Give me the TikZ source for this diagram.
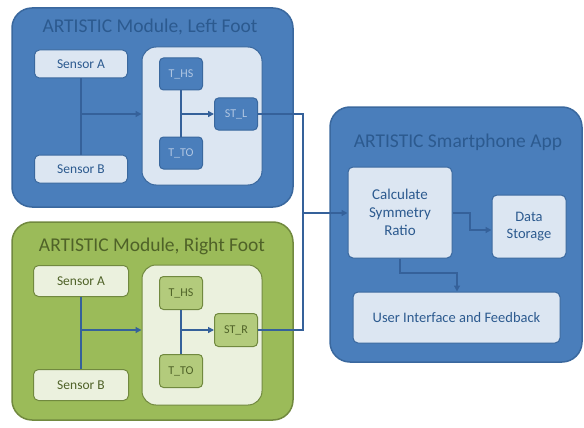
\documentclass[tikz,border=0pt]{standalone}
\usepackage{fontspec}
\setmainfont{Carlito}
\usetikzlibrary{arrows.meta}
\definecolor{bluefill}{HTML}{4A7EBB}
\definecolor{blueline}{HTML}{3A689E}
\definecolor{bluelight}{HTML}{DCE6F2}
\definecolor{bluetext}{HTML}{2C5A8F}
\definecolor{bluesmalltext}{HTML}{B0C6E2}
\definecolor{greenfill}{HTML}{9BBB59}
\definecolor{greensmall}{HTML}{B3CB7C}
\definecolor{greenline}{HTML}{71893F}
\definecolor{greenlight}{HTML}{EBF1DE}
\definecolor{greentext}{HTML}{4F6228}
\definecolor{wireblue}{HTML}{35619A}
\tikzset{
  outerB/.style={draw=blueline, fill=bluefill, line width=1.5pt, rounded corners=20pt},
  outerG/.style={draw=greenline, fill=greenfill, line width=1.5pt, rounded corners=20pt},
  lightB/.style={draw=blueline, fill=bluelight, line width=1pt, rounded corners=5pt, text=bluetext, font=\fontsize{13.5}{15}\selectfont},
  lightG/.style={draw=greenline, fill=greenlight, line width=1pt, rounded corners=5pt, text=greentext, font=\fontsize{13.5}{15}\selectfont},
  innerB/.style={draw=blueline, fill=bluelight, line width=1pt, rounded corners=14pt},
  innerG/.style={draw=greenline, fill=greenlight, line width=1pt, rounded corners=14pt},
  smallB/.style={draw=blueline, fill=bluefill, line width=1pt, rounded corners=4pt, text=bluesmalltext, font=\fontsize{12}{14}\selectfont},
  smallG/.style={draw=greenline, fill=greensmall, line width=1pt, rounded corners=4pt, text=greentext, font=\fontsize{12}{14}\selectfont},
  titleB/.style={text=bluetext, font=\fontsize{19.5}{22}\selectfont},
  titleG/.style={text=greentext, font=\fontsize{19.5}{22}\selectfont},
  apptext/.style={align=center, font=\fontsize{15}{18}\selectfont},
  wire/.style={draw=wireblue, line width=1.3pt},
  wirearrow/.style={wire, -{Triangle[length=6pt,width=6pt]}},
}
\begin{document}
\begin{tikzpicture}[x=1pt,y=-1pt]
\useasboundingbox (0,0) rectangle (584,428);
% ---------- Left foot ----------
\draw[outerB] (12,8) rectangle (293,207);
\node[titleB] (tl) at (150,27) {ARTISTIC Module, Left Foot};
\node[lightB, minimum width=93pt, minimum height=28pt] (laA) at (81,64) {Sensor A};
\node[lightB, minimum width=93pt, minimum height=28pt] (laB) at (81,169) {Sensor B};
\node[innerB, minimum width=120pt, minimum height=138pt] (lin) at (202,116) {};
\node[smallB, minimum width=43pt, minimum height=32pt] (lhs) at (181,74) {T\_HS};
\node[smallB, minimum width=43pt, minimum height=32pt] (lto) at (181,153) {T\_TO};
\node[smallB, minimum width=43pt, minimum height=32pt] (lst) at (236,114) {ST\_L};
\draw[wire] (laA.south) -- (laB.north);
\draw[wirearrow] (laA.south |- lst.west) -- (lin.west |- lst.west);
\draw[wire] (lhs.south) -- (lto.north);
\draw[wirearrow] (lhs.south |- lst.west) -- (lst.west);
% ---------- Right foot ----------
\draw[outerG] (12,222) rectangle (293,420);
\node[titleG] (tr) at (152,246) {ARTISTIC Module, Right Foot};
\node[lightG, minimum width=95pt, minimum height=31pt] (raA) at (81,281) {Sensor A};
\node[lightG, minimum width=95pt, minimum height=31pt] (raB) at (81,385) {Sensor B};
\node[innerG, minimum width=120pt, minimum height=140pt] (rin) at (202,335) {};
\node[smallG, minimum width=43pt, minimum height=33pt] (rhs) at (181,293) {T\_HS};
\node[smallG, minimum width=43pt, minimum height=33pt] (rto) at (181,371) {T\_TO};
\node[smallG, minimum width=43pt, minimum height=33pt] (rst) at (236,330) {ST\_R};
\draw[wire] (raA.south) -- (raB.north);
\draw[wirearrow] (raA.south |- rst.west) -- (rin.west |- rst.west);
\draw[wire] (rhs.south) -- (rto.north);
\draw[wirearrow] (rhs.south |- rst.west) -- (rst.west);
% ---------- App ----------
\draw[outerB] (330,107) rectangle (582,362);
\node[titleB] (ta) at (458,142) {ARTISTIC Smartphone App};
\node[lightB, apptext, minimum width=104pt, minimum height=91pt] (calc) at (400,212.5) {Calculate\\Symmetry\\Ratio};
\node[lightB, apptext, font=\fontsize{14.5}{17.5}\selectfont, minimum width=74pt, minimum height=63pt] (ds) at (529,226.5) {Data\\Storage};
\node[lightB, apptext, font=\fontsize{14.5}{17}\selectfont, minimum width=207pt, minimum height=51pt] (ui) at (456.5,317.5) {User Interface and Feedback};
\coordinate (j) at (303,213);
\draw[wire] (lst.east) -| (j);
\draw[wire] (rst.east) -| (j);
\draw[wirearrow] (j) -- (calc.west |- j);
\draw[wirearrow] (calc.east |- j) -- (470,213) -- (470,230) -- (ds.west |- 0,230);
\draw[wirearrow] (calc.south) -- (400,273) -- (457,273) -- (ui.north -| 457,0);
\end{tikzpicture}
\end{document}
